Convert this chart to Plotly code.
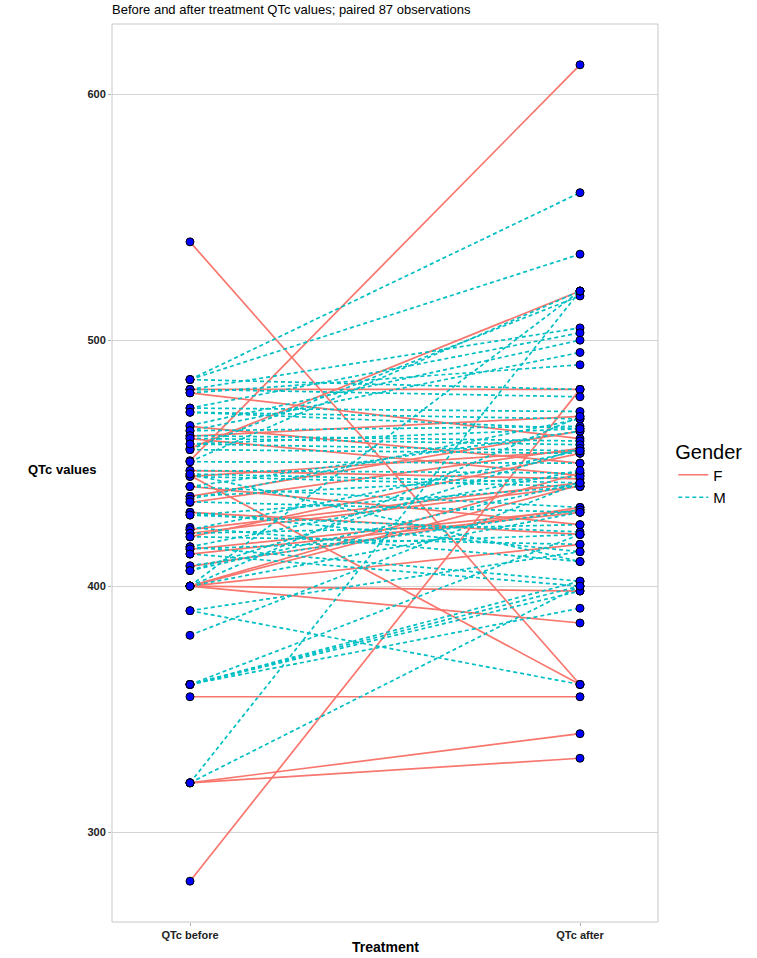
import plotly.graph_objects as go

categories = ["QTc before", "QTc after"]

f_before = [540, 280, 320, 320, 355, 451, 456, 480, 478.6, 465, 445, 400, 400, 400, 400, 400,
            423, 421.5, 415, 413, 436.5, 434, 440.5, 447, 460, 408, 430, 444.6, 461, 420]
f_after = [360, 480, 340, 330, 355, 612, 520, 480, 460, 450, 360, 385, 398, 417, 441, 446,
           442, 440.5, 431, 430, 463, 456, 425, 443.6, 445, 432, 421, 455, 469, 454]

m_before = [484, 484, 484, 480, 480, 478.6, 472.4, 472.4, 470.7, 465.3, 463.2, 463.2, 461.2,
            460.1, 457.8, 455.5, 455.5, 450.6, 450.6, 447, 445.6, 444.6, 440.5, 440.5, 436.5,
            435.4, 434.3, 430, 428.9, 428.9, 423.9, 423, 421.5, 420.1, 416, 416, 415.1, 413.1,
            408.3, 406.3, 406.3, 400, 400, 400, 390, 390, 380, 360, 360, 360, 360, 360, 320, 320,
            470.7, 457.8, 445.6]
m_after = [560, 480, 535, 505, 477, 490, 503, 471, 468, 500, 495, 465, 459,
           457.5, 464, 518, 454, 520, 450, 446, 442, 440.5, 432, 463, 444.6,
           468, 430, 414, 440.5, 422, 410, 455, 425, 417, 447, 402, 421, 400,
           431, 456, 442, 469, 430, 520, 360, 414, 442, 391, 400, 402, 421, 398, 520, 400,
           464, 455, 410]

RED = "#F8766D"
CYAN = "#00BFC4"


def segs(b, a):
    xs, ys = [], []
    for bv, av in zip(b, a):
        xs += [0, 1, None]
        ys += [bv, av, None]
    return xs, ys


fig = go.Figure()
mx, my = segs(m_before, m_after)
fx, fy = segs(f_before, f_after)
fig.add_trace(go.Scatter(x=fx, y=fy, mode="lines", name="F",
                         line=dict(color=RED, width=1.7), legendrank=1))
fig.add_trace(go.Scatter(x=mx, y=my, mode="lines", name="M",
                         line=dict(color=CYAN, width=1.7, dash="4px,3px"), legendrank=2))

all_b = f_before + m_before
all_a = f_after + m_after
fig.add_trace(go.Scatter(x=[0] * len(all_b) + [1] * len(all_a), y=all_b + all_a,
                         mode="markers", showlegend=False,
                         marker=dict(color="#0000FF", size=8,
                                     line=dict(color="black", width=1))))

fig.update_layout(
    width=757, height=958,
    margin=dict(l=112, r=97, t=24, b=36),
    paper_bgcolor="white", plot_bgcolor="white",
    font=dict(family="Liberation Sans, Arial, sans-serif", color="#333333"),
    title=dict(text="Before and after treatment QTc values; paired 87 observations",
               x=112 / 757, xanchor="left", y=1 - 9 / 958, yanchor="middle",
               font=dict(size=13, color="black")),
    xaxis=dict(range=[-0.2, 1.2], tickvals=[0, 1],
               ticktext=["<b>%s</b>" % c for c in categories],
               showgrid=False, zeroline=False, showline=False,
               ticks="outside", ticklen=3, tickcolor="#b0b0b0",
               tickfont=dict(size=11, color="#222222")),
    yaxis=dict(range=[263.4, 628.6], tickvals=[300, 400, 500, 600],
               ticktext=["<b>%d</b>" % v for v in [300, 400, 500, 600]],
               showgrid=True, gridcolor="#d4d4d4", gridwidth=1, zeroline=False,
               showline=False, ticks="outside", ticklen=3, tickcolor="#b0b0b0",
               tickfont=dict(size=11, color="#222222")),
    legend=dict(x=1.028, xanchor="left", y=0.5, yanchor="middle",
                title=dict(text="Gender", font=dict(size=20, color="black")),
                font=dict(size=15, color="black"), tracegroupgap=0,
                bgcolor="rgba(0,0,0,0)"),
    shapes=[dict(type="rect", xref="paper", yref="paper", x0=0, x1=1, y0=0, y1=1,
                 line=dict(color="#c8c8c8", width=1))],
    annotations=[
        dict(text="<b>QTc values</b>", xref="paper", yref="paper",
             x=(62 - 112) / 548, y=(922 - 470) / 898, showarrow=False,
             font=dict(size=13, color="black"), xanchor="center", yanchor="middle"),
        dict(text="<b>Treatment</b>", xref="paper", yref="paper",
             x=(386 - 112) / 548, y=-(947 - 922) / 898, showarrow=False,
             font=dict(size=14, color="black"), xanchor="center", yanchor="middle"),
    ],
)

fig.write_html("out.html", config={"displayModeBar": False},
               post_script="document.body.style.margin='0';document.body.style.overflow='hidden';")
